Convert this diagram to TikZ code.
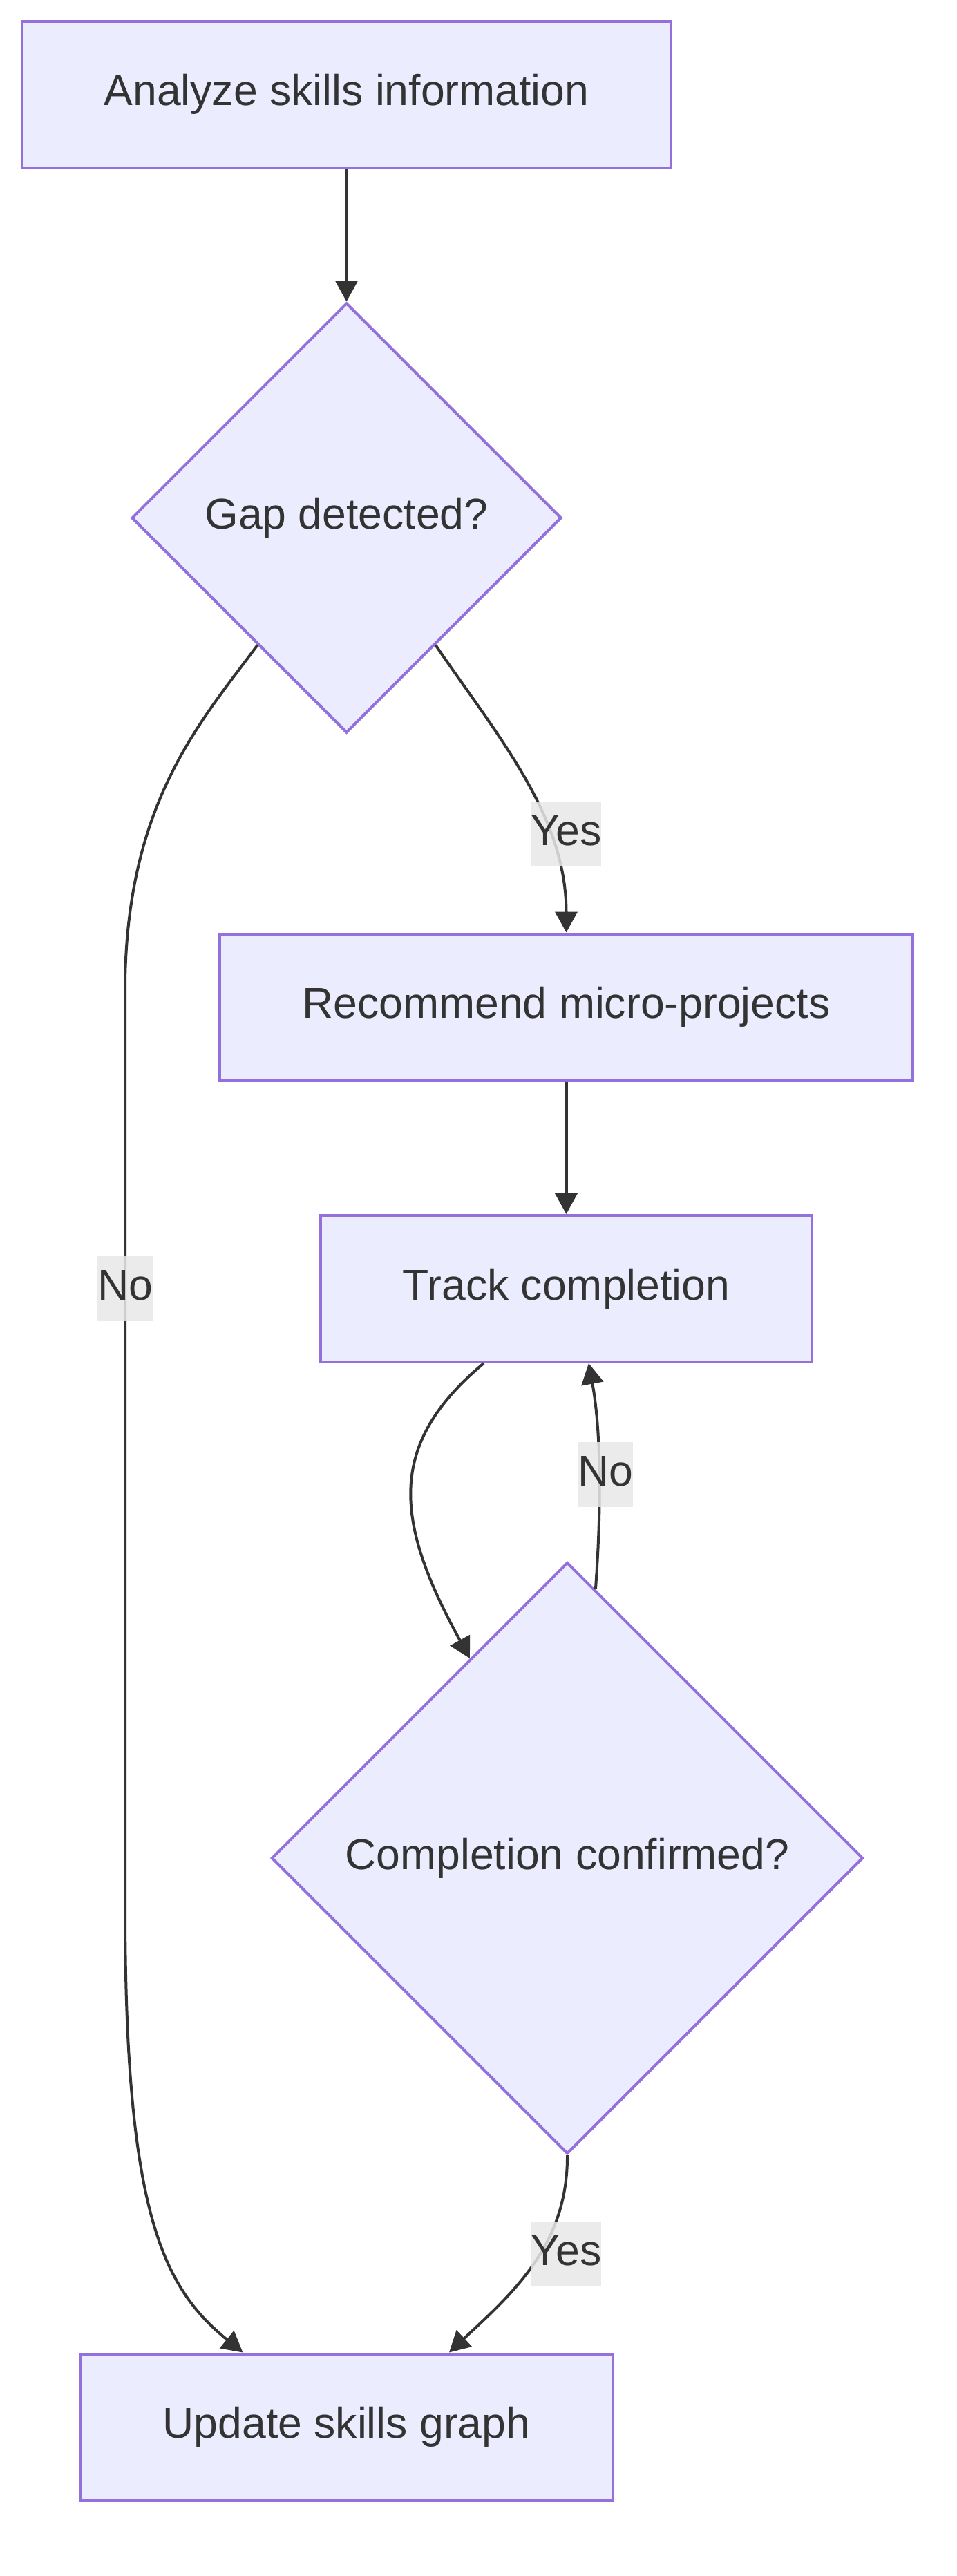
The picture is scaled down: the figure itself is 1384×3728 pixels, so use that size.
\documentclass[tikz,border=0pt]{standalone}
\usepackage{fontspec}
\setmainfont{Liberation Sans}
\usetikzlibrary{shapes.geometric,arrows.meta}
\definecolor{nodefill}{HTML}{ECECFF}
\definecolor{nodeline}{HTML}{9370DB}
\definecolor{ink}{HTML}{333333}
\definecolor{labelbg}{HTML}{E8E8E8}
\begin{document}
\begin{tikzpicture}[x=1pt,y=-1pt,
  every node/.style={font=\fontsize{62.5pt}{75pt}\selectfont, text=ink},
  proc/.style={draw=nodeline, fill=nodefill, line width=4pt, rectangle, inner sep=0pt,
    minimum height=212pt, text height=46pt, text depth=14pt},
  decide/.style={draw=nodeline, fill=nodefill, line width=4pt, diamond, aspect=1, inner sep=0pt,
    text height=46pt, text depth=14pt},
  link/.style={draw=ink, line width=4pt, -{Triangle[length=30pt,width=32pt]}},
  elabel/.style={fill=labelbg, fill opacity=0.85, text opacity=1, inner xsep=0pt, inner ysep=0pt,
    minimum height=94pt, text height=46pt, text depth=14pt}
]
\fill[white] (0,0) rectangle (1384,3728);
\useasboundingbox (0,0) rectangle (1384,3728);

% nodes
\node[proc, minimum width=939pt] (A) at (501.5,137) {Analyze skills information};
\node[decide, minimum width=622pt, minimum height=622pt] (B) at (501.5,749.5) {Gap detected?};
\node[proc, minimum width=1003pt] (C) at (819.5,1457.5) {Recommend micro-projects};
\node[proc, minimum width=711pt] (D) at (819.5,1865) {Track completion};
\node[decide, minimum width=856pt, minimum height=856pt] (E) at (821,2689) {Completion confirmed?};
\node[proc, minimum width=771pt] (F) at (501.5,3512.5) {Update skills graph};

% connectors
\draw[link] (A) -- (B);
\draw[link] (B.-55.6) .. controls (720,1065) and (819.5,1180) .. (C.north);
\draw[link] (B.-125.4) .. controls (290,1045) and (185,1160) .. (181,1420)
  -- (181,2760) .. controls (181,3200) and (235,3310) .. ([xshift=-150pt]F.north);
\draw[link] (C) -- (D);
\draw[link] ([xshift=-119.5pt]D.south) .. controls (560,2090) and (570,2200) .. (E.116.4);
\draw[link] (E.84.5) .. controls (872,2160) and (868,2060) .. ([xshift=32.5pt]D.south);
\draw[link] (E.south) .. controls (822,3250) and (740,3320) .. ([xshift=148.5pt]F.north);

% edge labels
\node[elabel] (l1) at (819.5,1207) {Yes};
\node[elabel] (l2) at (181,1865) {No};
\node[elabel] (l3) at (876,2134) {No};
\node[elabel] (l4) at (819.5,3262) {Yes};
\end{tikzpicture}
\end{document}
